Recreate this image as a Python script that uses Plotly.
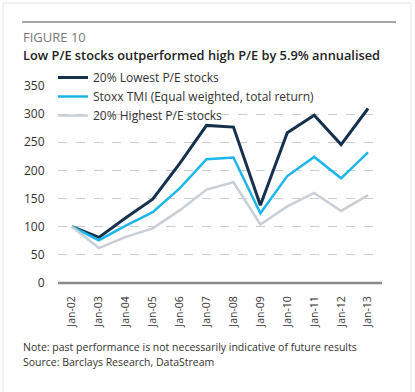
import plotly.graph_objects as go

categories = ["Jan-02", "Jan-03", "Jan-04", "Jan-05", "Jan-06", "Jan-07",
              "Jan-08", "Jan-09", "Jan-10", "Jan-11", "Jan-12", "Jan-13"]
lowest_pe = [100, 81, 116, 149, 212, 280, 277, 138, 267, 298, 246, 310]
stoxx_tmi = [100, 76, 102, 126, 168, 220, 223, 124, 190, 224, 186, 232]
highest_pe = [100, 62, 82, 97, 129, 166, 179, 104, 136, 160, 128, 156]
y_ticks = [0, 50, 100, 150, 200, 250, 300, 350]

W, H = 415, 392
L, R, T, B = 58, 382, 86, 283
pw, ph = R - L, B - T


def px(x):
    return (x - L) / pw


def py(y):
    return (B - y) / ph


FONT = "Open Sans"
fig = go.Figure()
fig.add_trace(go.Scatter(x=categories, y=lowest_pe, mode="lines", name="20% Lowest P/E stocks",
                         line=dict(color="#16314d", width=3)))
fig.add_trace(go.Scatter(x=categories, y=stoxx_tmi, mode="lines",
                         name="Stoxx TMI (Equal weighted, total return)",
                         line=dict(color="#1db6ea", width=2.5)))
fig.add_trace(go.Scatter(x=categories, y=highest_pe, mode="lines", name="20% Highest P/E stocks",
                         line=dict(color="#c8d0d6", width=2.5)))

fig.update_layout(
    width=W, height=H,
    margin=dict(l=L, r=W - R, t=T, b=H - B, pad=0),
    paper_bgcolor="white", plot_bgcolor="white",
    font=dict(family=FONT, color="#333333"),
    showlegend=True,
    legend=dict(x=px(53), y=py(63), xanchor="left", yanchor="top", bgcolor="rgba(0,0,0,0)",
                font=dict(size=12, color="#333333"), tracegroupgap=0, itemwidth=30),
    xaxis=dict(type="category", range=[-0.52, 11.52], tickangle=-90, showgrid=False,
               tickfont=dict(size=10.5, color="#333333"), ticks="outside", ticklen=8,
               tickcolor="rgba(0,0,0,0)", showline=False, zeroline=False, fixedrange=True),
    yaxis=dict(range=[0, 350], tickvals=y_ticks, showgrid=True, gridcolor="#cccccc",
               griddash="dash", gridwidth=1, zeroline=False, showline=False,
               tickfont=dict(size=12, color="#333333"), ticks="outside", ticklen=10,
               tickcolor="rgba(0,0,0,0)", fixedrange=True),
    shapes=[
        dict(type="line", xref="paper", yref="paper", x0=0, x1=1, y0=0, y1=0,
             line=dict(color="#8a8a8a", width=2.5)),
        dict(type="line", xref="paper", yref="paper", x0=px(22), x1=px(396), y0=py(22), y1=py(22),
             line=dict(color="#a6a6a6", width=2)),
        dict(type="rect", xref="paper", yref="paper", x0=px(3), x1=px(411), y0=py(400), y1=py(3),
             line=dict(color="#e3e3e3", width=1), layer="below"),
    ],
    annotations=[
        dict(text="FIGURE 10", xref="paper", yref="paper", x=px(21), y=py(37), xanchor="left",
             yanchor="middle", showarrow=False, font=dict(size=13, color="#7a7a7a")),
        dict(text="Low P/E stocks outperformed high P/E by 5.9% annualised", xref="paper",
             yref="paper", x=px(21), y=py(55), xanchor="left", yanchor="middle", showarrow=False,
             font=dict(size=12.8, color="#222222", weight=600)),
        dict(text="Note: past performance is not necessarily indicative of future results",
             xref="paper", yref="paper", x=px(21), y=py(347), xanchor="left", yanchor="middle",
             showarrow=False, font=dict(size=10.5, color="#333333")),
        dict(text="Source: Barclays Research, DataStream", xref="paper", yref="paper", x=px(21),
             y=py(362), xanchor="left", yanchor="middle", showarrow=False,
             font=dict(size=10.5, color="#333333")),
    ],
)

fig.write_html("out.html", config={"displayModeBar": False},
               post_script="document.body.style.margin='0';")
